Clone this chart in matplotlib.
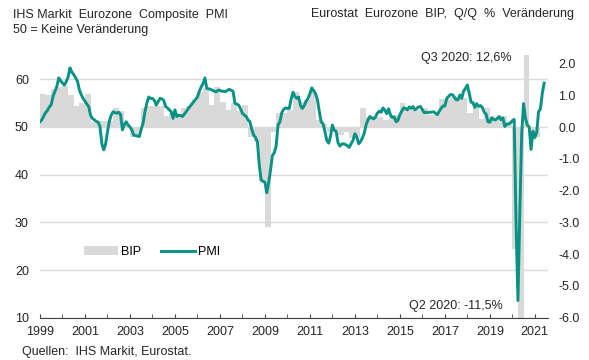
import numpy as np
import matplotlib
matplotlib.use("Agg")
import matplotlib.pyplot as plt

plt.rcParams['font.family'] = ['Liberation Sans', 'DejaVu Sans']
plt.rcParams['font.size'] = 9

# IHS Markit Eurozone Composite PMI, monthly, Jan 1999 - Jun 2021
pmi = [
    51.1, 51.5, 52.3, 53.0, 53.5, 54.2, 54.7, 56.5, 57.5, 58.5, 60.3, 59.7,  # 1999
    59.2, 58.8, 59.5, 60.5, 62.4, 61.5, 61.0, 60.3, 59.6, 57.8, 56.8, 56.0,  # 2000
    55.4, 54.8, 54.3, 52.4, 51.8, 51.5, 51.2, 51.0, 50.1, 46.5, 45.2, 46.4,  # 2001
    49.0, 51.2, 52.5, 53.2, 53.0, 52.9, 53.1, 52.6, 49.4, 50.5, 51.1, 50.4,  # 2002
    50.0, 49.4, 48.3, 48.2, 48.1, 48.0, 49.5, 50.8, 53.2, 55.0, 56.3, 56.0,  # 2003
    56.0, 55.6, 54.6, 55.3, 56.0, 55.9, 55.6, 54.3, 54.0, 53.6, 53.2, 51.8,  # 2004
    53.6, 52.2, 52.5, 52.4, 52.2, 52.7, 53.2, 53.8, 54.3, 54.8, 55.3, 55.8,  # 2005
    56.3, 57.5, 58.4, 59.1, 60.3, 58.1, 58.0, 57.9, 57.7, 57.5, 57.4, 57.7,  # 2006
    57.7, 57.5, 57.5, 57.4, 57.7, 57.9, 57.7, 57.5, 55.0, 54.8, 54.6, 53.8,  # 2007
    52.9, 52.5, 52.2, 51.5, 51.1, 49.5, 48.3, 47.8, 46.9, 42.0, 38.9, 38.6,  # 2008
    38.4, 36.2, 38.3, 41.0, 44.0, 44.6, 46.0, 50.4, 51.1, 53.0, 53.7, 54.0,  # 2009
    53.9, 53.9, 55.9, 57.3, 56.4, 56.0, 56.3, 54.5, 53.9, 54.5, 55.4, 56.0,  # 2010
    57.0, 58.2, 57.6, 57.0, 55.8, 53.3, 51.1, 50.7, 49.1, 47.2, 46.6, 48.0,  # 2011
    50.4, 49.3, 49.1, 46.7, 46.0, 46.4, 46.5, 46.3, 46.1, 45.7, 46.5, 47.2,  # 2012
    48.6, 47.9, 46.5, 46.9, 47.7, 48.7, 50.5, 51.5, 52.2, 51.9, 51.7, 52.1,  # 2013
    52.9, 53.3, 53.1, 54.0, 53.5, 52.8, 53.8, 52.5, 52.0, 52.1, 51.1, 51.4,  # 2014
    52.6, 53.3, 54.0, 53.9, 53.6, 54.2, 53.9, 54.3, 53.6, 53.9, 54.2, 54.3,  # 2015
    53.6, 53.0, 53.1, 53.0, 53.1, 53.1, 53.2, 52.9, 52.6, 53.3, 53.9, 54.4,  # 2016
    54.4, 56.0, 56.4, 56.8, 56.8, 56.3, 55.7, 55.7, 56.7, 56.0, 57.5, 58.1,  # 2017
    58.8, 57.1, 55.2, 55.1, 54.1, 54.9, 54.3, 54.5, 54.1, 53.1, 52.7, 51.1,  # 2018
    51.0, 51.9, 51.6, 51.5, 51.8, 52.2, 51.5, 51.9, 50.1, 50.6, 50.6, 50.9,  # 2019
    51.3, 51.6, 29.7, 13.6, 31.9, 48.5, 54.9, 51.9, 50.4, 50.0, 45.3, 49.1,  # 2020
    47.8, 48.8, 53.2, 53.8, 57.1, 59.2,                                      # 2021
]

# Eurostat Eurozone GDP, q/q % change, Q1 1999 - Q1 2021
bip = [
    1.05, 1.0, 1.2, 1.25,      # 1999
    1.3, 1.0, 0.65, 0.75,      # 2000
    1.05, 0.15, 0.2, 0.2,      # 2001
    0.2, 0.6, 0.5, 0.1,        # 2002
    -0.3, -0.3, 0.6, 0.65,     # 2003
    0.65, 0.65, 0.35, 0.45,    # 2004
    0.35, 0.6, 0.65, 0.9,      # 2005
    1.1, 1.22, 0.7, 1.27,      # 2006
    0.8, 0.55, 0.75, 0.5,      # 2007
    0.7, -0.3, -0.46, -1.72,   # 2008
    -3.15, -0.15, 0.43, 0.43,  # 2009
    0.54, 1.1, 0.8, 0.85,      # 2010
    1.2, 0.22, 0.1, -0.15,     # 2011
    -0.1, -0.25, -0.15, -0.35, # 2012
    -0.3, 0.6, 0.33, 0.33,     # 2013
    0.33, 0.22, 0.38, 0.38,    # 2014
    0.75, 0.54, 0.54, 0.54,    # 2015
    0.6, 0.38, 0.38, 0.9,      # 2016
    0.9, 0.96, 0.96, 0.93,     # 2017
    0.45, 0.6, 0.27, 0.6,      # 2018
    0.35, 0.3, 0.35, 0.15,     # 2019
    -3.85, -11.5, 12.6, -0.4,  # 2020
    -0.3,                      # 2021
]

pmi_x = 1999 + np.arange(len(pmi)) / 12
bip_x = 1999 + np.arange(len(bip)) / 4

teal = '#079383'
grey = '#d9d9d9'
txt = '#262626'

fig = plt.figure(figsize=(5.89, 3.6), dpi=100)
ax = fig.add_axes([0.0679, 0.1175, 0.863, 0.7297])
ax2 = ax.twinx()

bars = ax2.bar(bip_x, bip, width=0.25, align='edge', color=grey, label='BIP')
ax2.set_ylim(-6, 2.27)
ax2.set_yticks(np.arange(-6, 2.1, 1))
ax2.yaxis.set_major_formatter(matplotlib.ticker.FormatStrFormatter('%.1f'))

line, = ax.plot(pmi_x, pmi, color=teal, lw=2.1, label='PMI', solid_joinstyle='round')
ax.set_ylim(10, 65.1)
ax.set_yticks([10, 20, 30, 40, 50, 60])
ax.set_xlim(1999, 2021.6)
ax.set_xticks(range(1999, 2022, 2))
ax.set_xticks(range(1999, 2022), minor=True)

ax.set_zorder(ax2.get_zorder() + 1)
ax.patch.set_visible(False)
ax.grid(axis='y', color='#d9d9d9', lw=1)
ax.set_axisbelow(True)

for a in (ax, ax2):
    for s in ('top', 'left', 'right'):
        a.spines[s].set_visible(False)
ax2.spines['bottom'].set_visible(False)
ax.spines['bottom'].set_color('#404040')

ax.tick_params(axis='y', length=0, pad=8, labelsize=9, labelcolor=txt)
ax2.tick_params(axis='y', length=0, pad=7, labelsize=9, labelcolor=txt)
ax.tick_params(axis='x', which='both', direction='in', length=3, color='#404040',
               labelsize=9, labelcolor=txt, pad=6)

ax.legend([bars, line], ['BIP', 'PMI'], loc='center left', bbox_to_anchor=(0.087, 0.25),
          ncol=2, frameon=False, handlelength=2.7, handletextpad=0.25,
          columnspacing=1.6, borderaxespad=0, borderpad=0, fontsize=9)

fig.text(13 / 589, 1 - 15 / 360, 'IHS Markit  Eurozone  Composite  PMI', ha='left', va='center',
         fontsize=9, color=txt)
fig.text(13 / 589, 1 - 30 / 360, '50 = Keine Veränderung', ha='left', va='center',
         fontsize=9, color=txt)
fig.text(574 / 589, 1 - 14 / 360, 'Eurostat  Eurozone  BIP,  Q/Q  %  Veränderung', ha='right',
         va='center', fontsize=9, color=txt)
fig.text(511.7 / 589, 1 - 58 / 360, 'Q3 2020: 12,6%', ha='right', va='center',
         fontsize=9, color=txt)
fig.text(502.7 / 589, 1 - 305.7 / 360, 'Q2 2020: -11,5%', ha='right', va='center',
         fontsize=9, color=txt)
fig.text(22 / 589, 1 - 351.7 / 360, 'Quellen:  IHS Markit, Eurostat.', ha='left', va='center',
         fontsize=9, color=txt)

fig.savefig('out.png', dpi=100)
